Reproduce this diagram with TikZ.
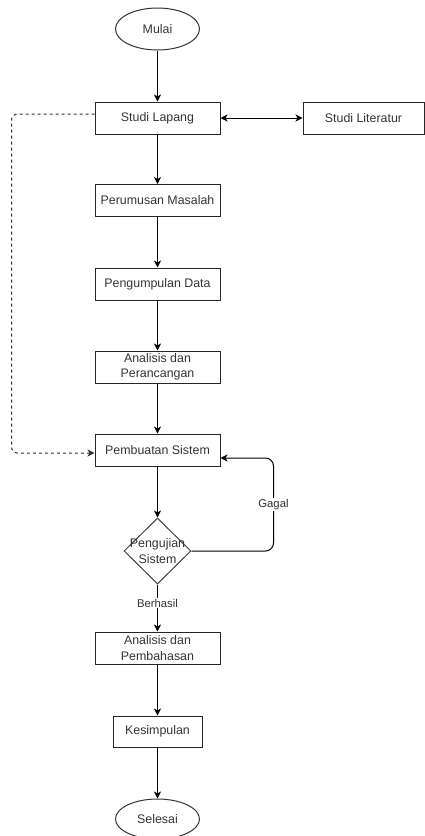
\documentclass[tikz,border=0pt]{standalone}
\usepackage{fontspec}
\setmainfont{Liberation Sans}
\usetikzlibrary{shapes.geometric,arrows.meta}
\begin{document}
\begin{tikzpicture}[x=1pt,y=-1pt,
  font=\fontsize{12.4}{15.3}\selectfont,
  box/.style={draw=black!85, line width=1pt, minimum width=125pt, minimum height=32pt, inner sep=0pt, align=center, text=black!80},
  term/.style={ellipse, draw=black!80, line width=1pt, minimum width=84pt, minimum height=42pt, inner sep=0pt, text=black!80},
  dec/.style={diamond, draw=black!75, line width=1pt, minimum width=67pt, minimum height=66pt, inner sep=0pt},
  tip/.style={Stealth[length=7pt,width=7pt,inset=2pt]},
  arr/.style={line width=1pt, draw=black, -{Stealth[length=7pt,width=7pt,inset=2pt]}},
  lbl/.style={fill=white, inner sep=1pt, font=\fontsize{11.3}{13}\selectfont, text=black!80}
]
\useasboundingbox (0,0) rectangle (425,836);

\node[term] (start) at (157.5,29) {Mulai};
\node[box] (sl) at (157.5,118) {Studi Lapang};
\node[box, minimum width=121pt] (lit) at (363.5,118) {Studi Literatur};
\node[box] (pm) at (157.5,200.5) {Perumusan Masalah};
\node[box] (pd) at (157.5,284) {Pengumpulan Data};
\node[box] (ap) at (157.5,367) {Analisis dan\\Perancangan};
\node[box] (ps) at (157.5,450) {Pembuatan Sistem};
\node[dec, label={[align=center, text=black!80, inner sep=0pt]center:Pengujian\\Sistem}] (uj) at (157.5,551) {};
\node[box] (pb) at (157.5,648) {Analisis dan\\Pembahasan};
\node[box, minimum width=89pt, minimum height=31pt] (ks) at (157.5,731.5) {Kesimpulan};
\node[term, minimum height=40pt] (end) at (157.5,819) {Selesai};

\draw[arr] (start) -- (sl);
\draw[line width=1pt, {Stealth[length=7pt,width=7pt,inset=2pt]}-{Stealth[length=7pt,width=7pt,inset=2pt]}] (sl) -- (lit);
\draw[arr] (sl) -- (pm);
\draw[arr] (pm) -- (pd);
\draw[arr] (pd) -- (ap);
\draw[arr] (ap) -- (ps);
\draw[arr] (ps) -- (uj);
\draw[arr] (uj) -- node[lbl, pos=0.4] {Berhasil} (pb);
\draw[arr] (pb) -- (ks);
\draw[arr] (ks) -- (end);
\draw[arr, rounded corners=8pt] (uj.east) -- ++(82,0) |- node[lbl, pos=0.25] {Gagal} ([yshift=-8pt]ps.east);
\draw[arr, draw=black!80, dash pattern=on 3pt off 3pt, rounded corners=6pt] ([yshift=4pt]sl.west) -- ++(-83,0) |- ([yshift=-3pt]ps.west);
\end{tikzpicture}
\end{document}
